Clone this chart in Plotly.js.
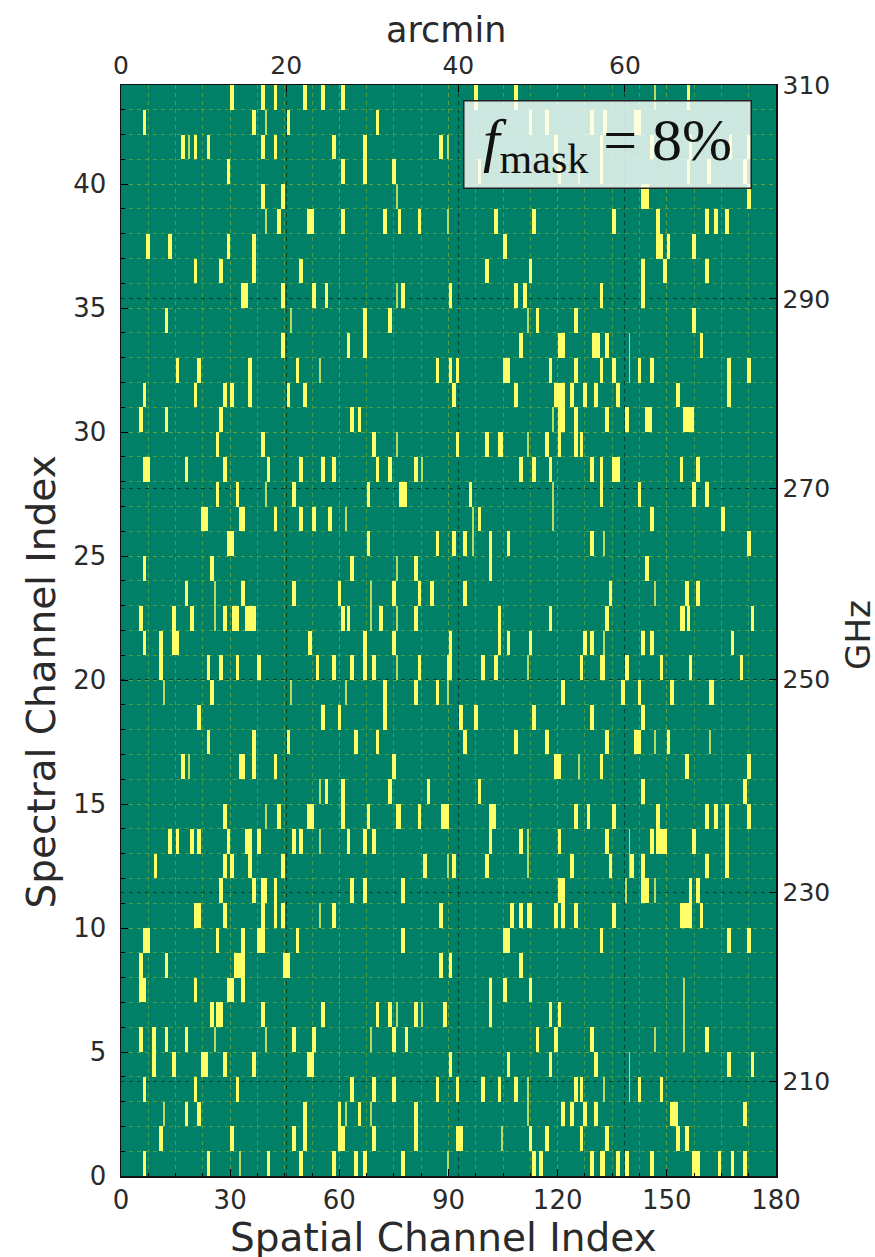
<!DOCTYPE html>
<html><head><meta charset="utf-8">
<script src="https://cdn.plot.ly/plotly-3.0.1.min.js"></script>
<style>html,body{margin:0;padding:0;background:#fff}#c{width:875px;height:1257px}</style>
</head><body><div id="c"></div>
<script>
// Masked spatial channels per spectral row (index = spectral channel, from 0).
// A number is a start channel of width 1; [start, width] is a wider run.
const maskedRows = [
 /*0*/[6,23.5,40,49,58,64,66.5,77,113,115,129,[131.5,1.5],136,138.5,145.5,[157,2],164,167.5,171],
 /*1*/[10.5,30,47,50,[59.5,2],69,80.5,[92,2],112,116.5,126,133,152.5,155],
 /*2*/[17.5,21,50,59.5,65,80.5,121,123.5,127,130,[151,2],171],
 /*3*/[6,20,31.5,63,69,74.5,86.5,92,99,103.5,108,124.5,126,142,148],
 /*4*/[8.5,14,[22,2],28,36,[51,2],90,106,117.5,130,166.5,173],
 /*5*/[5,8.5,12,17.5,47,52.5,74.5,78,114,119,129,160.5],
 /*6*/[24.5,[26,2],38.5,55,70,73.5,80.5,88.5,101,117.5,120],
 /*7*/[[5,2],20,[29,2],33,101,105,112],
 /*8*/[5,12,[31,3],[44.5,2],87.5,90,109.5],
 /*9*/[[6,2],26,33,[37.5,2],48,77,[105,2],131.5,166.5,172],
 /*10*/[[20,2],28,38.5,42,44,58,87.5,107,109.5,[111.5,1.5],119,121,124.5,135,153.5,[154.5,2.5],159],
 /*11*/[27,36,[38.5,1.5],42,63,66.5,77,[120,2],[143,2],156,158],
 /*12*/[9,28,30,35,44,83,91,100,123.5,134,140,143,160.5,166],
 /*13*/[13,15,19,21,29,[34,2],37.5,47,49,62,66.5,69,101,109.5,120,133,145.5,[147,3],157,166],
 /*14*/[28,43,[51,2],60.5,67.5,[75.5,1.5],81.5,[88,2],[101,2],124.5,128,135,147,160.5,163,166,172],
 /*15*/[56,60.5,73.5,84,98,143,171],
 /*16*/[16.5,[32.5,1.5],36,42,74.5,[119,2],131.5,155,172],
 /*17*/[23.5,36,45.5,64,70,94,108,116.5,133,[141,2],150],
 /*18*/[21,55,59.5,72,93,97,113,129,143],
 /*19*/[24.5,72,80.5,86.5,121,137.5,142,151,[161.5,1.5]],
 /*20*/[10.5,23.5,27,31.5,37.5,53.5,58,63,66.5,69,81.5,[89.5,1.5],99,102.5,126,[131.5,1.5],138.5,148,156,170],
 /*21*/[6,10.5,[14,2],51.5,66.5,74.5,90,103.5,106,112,127,129,143,145.5,167.5],
 /*22*/[5,14,19,28,[30.5,2],[34,3],60.5,62,71,80.5,103.5,117.5,133,[153.5,1.5],155.5,173],
 /*23*/[17.5,33,47,59.5,74.5,81.5,85,94,134,155,158],
 /*24*/[6,24.5,63,80.5,101,144],
 /*25*/[[29,2],67.5,86.5,91,94,101,106,129,172],
 /*26*/[[22,2],[32.5,1.5],42,49,52.5,57,98,145.5,165],
 /*27*/[26,31.5,47,67.5,[76.5,2],95.5,131.5,142,157,160.5],
 /*28*/[[6,2],17.5,28,40,49,55,58,70,73.5,80.5,109.5,113,117.5,129,131.5,[135,2],153.5,158],
 /*29*/[26,38.5,69,92,100,[103.5,1.5],116.5,120,124.5,126],
 /*30*/[5,12,27,63,65,[120,2],124.5,133,138.5,[144,2],[154.5,3]],
 /*31*/[6,20,28,30,35,45.5,50,91,108,[119,3],123.5,127,130,136,152.5,166.5],
 /*32*/[15,21,35,48,86.5,90,92,[105,2],117.5,124.5,131.5,135,142,145.5,166.5,172],
 /*33*/[44,62,66.5,109.5,[120,2],[129.5,2],133,159],
 /*34*/[12,66.5,73.5,114,124.5,157],
 /*35*/[[33,2],44,52.5,56,77,90,108,110.5,131.5,143],
 /*36*/[20,27,36,49,100,112,143,149,160.5],
 /*37*/[7,13,29,36,105,[147,2],150,157],
 /*38*/[43,[51,2],60.5,72,76,81.5,102.5,113,135,147,160.5,163,166],
 /*39*/[38.5,44,[143,2],172],
 /*40*/[29,60.5,66.5,74.5,98,120,131.5,155.5,161,171],
 /*41*/[16.5,20,23.5,38.5,42,58,66.5,87.5,119,131.5,145.5,156,167,172],
 /*42*/[6,36,45.5,70,112,116.5,129,132.5,[141,2]],
 /*43*/[30,38.5,42,50,55,60.5,97,108,155.5]
];
// Hairline masked channels (half a channel wide), same row order.
const thinRows = [
 [32.5,89.5],[104.5],[11.5,61.5,68.5,111.5],[111.5,132.5,139.5],[139.5],[25.5,39.5,68.5,146.5,154.5],
 [75.5,82.5,154.5],[154.5],[],[],[54.5],[138.5,146.5],[89.5,111.5,139.5],[54.5,111.5,139.5],[39.5],[54.5],
 [18.5,125.5],[146.5,161.5],[],[11.5,46.5,61.5,89.5],[75.5,111.5],[132.5],[25.5,68.5,75.5],
 [25.5,68.5,146.5],[75.5],[96.5,132.5],[61.5,96.5,118.5],[39.5,118.5],[82.5],[75.5,111.5],[118.5],[],
 [54.5,139.5],[139.5],[46.5,111.5],[75.5],[],[],[39.5,89.5],[75.5],[125.5],[18.5,89.5],[39.5],[146.5]
];
const xTicks = [0,30,60,90,120,150,180];
const yTicks = [0,5,10,15,20,25,30,35,40];
// Secondary scales are not linear in channel index: positions in channels, with their labels.
const arcminAtChannel = [0,45.4,92.7,138.5];
const arcminLabels = ['0','20','40','60'];
const ghzAtChannel = [3.83,11.45,20.04,27.74,35.37,44];
const ghzLabels = ['210','230','250','270','290','310'];
const maskValue = 1, thinValue = 0.72;

const nCols = 180, nRows = 44, perCol = 2;
const xs = Array.from({length:nCols*perCol},(_,i)=>(i+0.5)/perCol);
const ys = Array.from({length:nRows},(_,i)=>i+0.5);
const z = ys.map(()=>xs.map(()=>null));
maskedRows.forEach((row,r)=>row.forEach(e=>{
  const s = Array.isArray(e)?e[0]:e, w = Array.isArray(e)?e[1]:1;
  for(let k=0;k<w*perCol;k++) z[r][Math.round(s*perCol)+k]=maskValue;
}));
thinRows.forEach((row,r)=>row.forEach(s=>{
  const i=Math.round(s*perCol); if(z[r][i]===null) z[r][i]=thinValue;
}));

const GREEN='rgba(115,170,60,0.65)', DARK='rgba(0,0,0,0.5)', DASH='4px,4px';
const FONT='"DejaVu Sans", sans-serif', TXT='#2a2a2a';
const data=[
 {type:'heatmap',x:xs,y:ys,z:z,zmin:0,zmax:1,showscale:false,
  colorscale:[[0,'#008066'],[1,'#ffff66']],hoverongaps:false},
 {type:'scatter',x:[null],y:[null],xaxis:'x2',yaxis:'y2',hoverinfo:'skip',showlegend:false}
];
const axisBase={ticks:'inside',ticklen:7,tickcolor:'#000',showline:true,linecolor:'#111',linewidth:1.5,zeroline:false,showgrid:true,gridwidth:1,griddash:DASH};
const layout={
 width:875,height:1257,margin:{l:120.5,r:99,t:85,b:81},
 paper_bgcolor:'#fff',plot_bgcolor:'#008066',showlegend:false,
 font:{family:FONT,color:TXT},
 xaxis:{...axisBase,range:[0,180],tickvals:xTicks,gridcolor:GREEN,tickfont:{size:26},
   minor:{dtick:7.5,tick0:0,ticks:'inside',ticklen:3.5,tickcolor:'#000',showgrid:true,gridcolor:GREEN,griddash:DASH,gridwidth:1}},
 yaxis:{...axisBase,range:[0,44],tickvals:yTicks,gridcolor:GREEN,tickfont:{size:26},ticklabelstandoff:8,
   minor:{dtick:1,tick0:0,ticks:'inside',ticklen:3.5,tickcolor:'#000',showgrid:true,gridcolor:GREEN,griddash:DASH,gridwidth:1}},
 xaxis2:{...axisBase,overlaying:'x',side:'top',anchor:'y',range:[0,180],tickvals:arcminAtChannel,ticktext:arcminLabels,gridcolor:DARK,tickfont:{size:25}},
 yaxis2:{...axisBase,overlaying:'y',side:'right',anchor:'x',range:[0,44],tickvals:ghzAtChannel,ticktext:ghzLabels,gridcolor:DARK,tickfont:{size:25}},
 annotations:[
  {xref:'paper',yref:'paper',xanchor:'center',yanchor:'middle',x:(607-120.5)/655.5,y:(1176-144.5)/1091,
   showarrow:false,width:284,height:84,align:'center',valign:'middle',
   bgcolor:'rgba(255,255,255,0.8)',bordercolor:'#222',borderwidth:1.5,
   text:'<i>f</i><sub>mask</sub> = 8%',font:{family:'"Liberation Serif", serif',size:60,color:'#111'}},
  {xref:'paper',yref:'paper',x:(40-120.5)/655.5,y:(1176-682)/1091,xanchor:'center',yanchor:'middle',showarrow:false,
   textangle:-90,text:'Spectral Channel Index',font:{size:39,family:FONT,color:TXT}},
  {xref:'paper',yref:'paper',x:(443.5-120.5)/655.5,y:(1176-1237)/1091,xanchor:'center',yanchor:'middle',showarrow:false,
   text:'Spatial Channel Index',font:{size:39,family:FONT,color:TXT}},
  {xref:'paper',yref:'paper',x:(445.5-120.5)/655.5,y:(1176-30)/1091,xanchor:'center',yanchor:'middle',showarrow:false,
   text:'arcmin',font:{size:35,family:FONT,color:TXT}},
  {xref:'paper',yref:'paper',x:(858-120.5)/655.5,y:(1176-635)/1091,xanchor:'center',yanchor:'middle',showarrow:false,
   textangle:-90,text:'GHz',font:{size:34,family:FONT,color:TXT}}
 ]
};
Plotly.newPlot('c',data,layout,{displayModeBar:false,staticPlot:true});
</script></body></html>
